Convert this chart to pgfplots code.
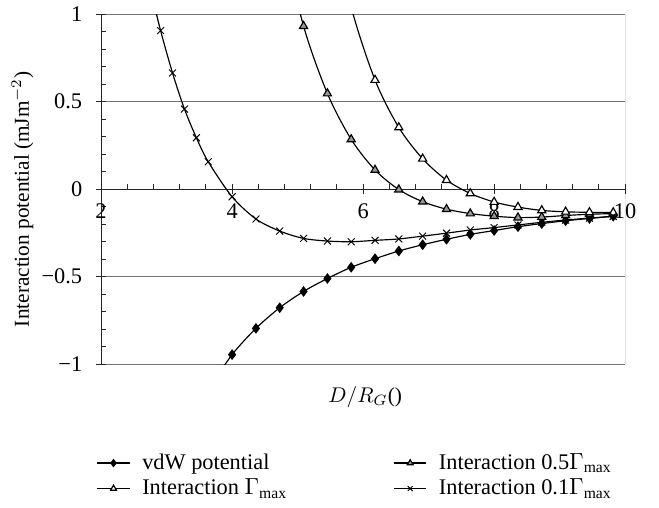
\documentclass[border=0pt]{standalone}
\usepackage{pgfplots}
\pgfplotsset{compat=1.18}
\usepackage{fontspec}
\setmainfont{Liberation Serif}
\begin{document}
\begin{tikzpicture}
\useasboundingbox (-47.5pt,-67.2pt) rectangle (262.2pt,171.1pt);
\begin{axis}[
  at={(0pt,0pt)}, anchor=south west,
  width=246.3pt, height=164.5pt, scale only axis,
  xmin=2, xmax=10, ymin=-1, ymax=1,
  axis x line*=middle, axis y line*=left,
  hide obscured x ticks=false, hide obscured y ticks=false,
  axis line style={black!85, line width=0.5pt},
  xtick={2,4,6,8,10}, ytick={-1,-0.5,0,0.5,1},
  xticklabels={2,4,6,8,10}, yticklabels={−1,−0.5,0,0.5,1},
  minor x tick num=4, minor y tick num=4,
  tick align=center, major tick length=4.7pt, minor tick length=2.35pt,
  tick style={black!85, line width=0.45pt},
  minor x tick style={yshift=1.175pt}, minor y tick style={xshift=1.175pt},
  xticklabel style={yshift=-1pt},
  yticklabel style={xshift=-3pt},
  ymajorgrids, major grid style={black!55, line width=0.5pt},
  label style={font=\fontsize{11}{13}\selectfont},
  tick label style={font=\fontsize{10.5}{12}\selectfont},
  every axis x label/.style={at={(axis description cs:0.504,-0.094)}, anchor=center},
  every axis y label/.style={at={(axis description cs:-0.15,0.471)}, rotate=90, anchor=center},
  xlabel={$D/R_G$()},
  ylabel={Interaction potential (mJm$^{-2}$)},
  legend columns=2,
  legend cell align={left},
  legend image code/.code={
    \draw[mark repeat=2, mark phase=2, mark size=1.6pt] plot coordinates {(0cm,0cm) (0.265cm,0cm) (0.53cm,0cm)};
    \path (0.66cm,0cm);},
  legend style={at={(axis description cs:-0.021,-0.230)}, anchor=north west, draw=none, fill=none,
    font=\fontsize{10.5}{12}\selectfont, row sep=-1pt,
    /tikz/every even column/.append style={column sep=48pt}},
  every axis plot/.append style={black, line width=0.55pt, smooth, mark options={solid, line width=0.45pt}},
]
\addplot[mark=diamond*, mark size=2.1pt, mark options={fill=black}] coordinates {
(3.636,-1.146) (4.000,-0.946) (4.364,-0.796) (4.727,-0.678) (5.091,-0.585) (5.455,-0.511)
(5.818,-0.447) (6.182,-0.398) (6.545,-0.354) (6.909,-0.318) (7.273,-0.287) (7.636,-0.259)
(8.000,-0.237) (8.364,-0.215) (8.727,-0.197) (9.091,-0.181) (9.455,-0.168) (9.818,-0.155)};
\addlegendentry{vdW potential}
\addplot[mark=triangle*, mark size=2.2pt, mark options={fill=black!40}] coordinates {
(4.727,1.50) (5.091,0.931) (5.455,0.546) (5.818,0.284) (6.182,0.109) (6.545,-0.003)
(6.909,-0.072) (7.273,-0.115) (7.636,-0.140) (8.000,-0.155) (8.364,-0.163) (8.727,-0.160)
(9.091,-0.151) (9.455,-0.144) (9.818,-0.140)};
\addlegendentry{Interaction 0.5$\Gamma_{\mathrm{max}}$}
\addplot[mark=triangle*, mark size=2.2pt, mark options={fill=white}] coordinates {
(5.455,1.65) (5.818,1.04) (6.182,0.623) (6.545,0.352) (6.909,0.173) (7.273,0.051)
(7.636,-0.025) (8.000,-0.074) (8.364,-0.103) (8.727,-0.122) (9.091,-0.130) (9.455,-0.133)
(9.818,-0.134)};
\addlegendentry{Interaction $\Gamma_{\mathrm{max}}$}
\addplot[mark=x, mark size=2.3pt] coordinates {
(2.727,1.18) (2.909,0.905) (3.091,0.663) (3.273,0.457) (3.455,0.293) (3.636,0.156)
(4.000,-0.044) (4.364,-0.171) (4.727,-0.240) (5.091,-0.282) (5.455,-0.297) (5.818,-0.301)
(6.182,-0.293) (6.545,-0.285) (6.909,-0.269) (7.273,-0.252) (7.636,-0.234) (8.000,-0.220)
(8.364,-0.205) (8.727,-0.190) (9.091,-0.177) (9.455,-0.166) (9.818,-0.156)};
\addlegendentry{Interaction 0.1$\Gamma_{\mathrm{max}}$}
\draw[black!85, line width=0.6pt] (rel axis cs:1,0) -- (rel axis cs:1,1);
\end{axis}
\end{tikzpicture}
\end{document}
